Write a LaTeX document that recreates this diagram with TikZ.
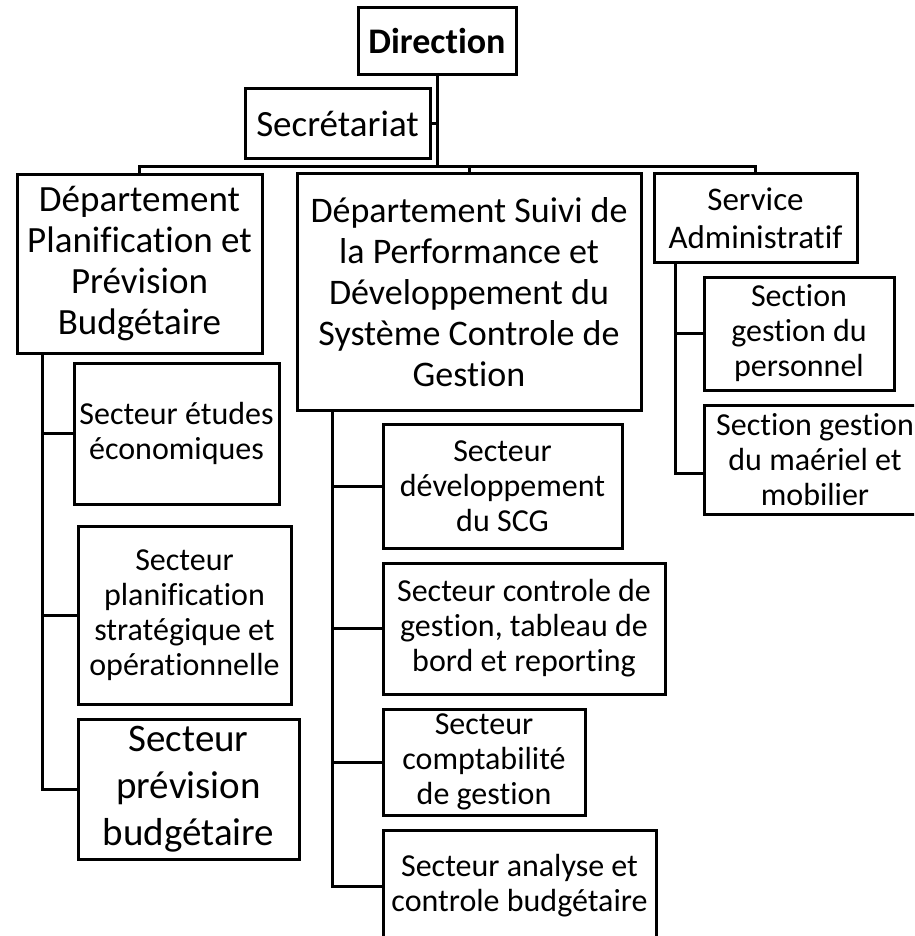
\documentclass[tikz,border=0pt]{standalone}
\usepackage{fontspec}
\setmainfont{Carlito}[Ligatures=NoCommon,Contextuals=NoAlternate]
\begin{document}
\begin{tikzpicture}[x=1pt,y=-1pt,line width=3pt,
  box/.style={draw=black,rectangle,inner sep=0pt,align=center},
  fbig/.style={font=\fontsize{37}{41}\selectfont},
  fmid/.style={font=\fontsize{33}{38}\selectfont},
  fsm/.style={font=\fontsize{32}{35}\selectfont},
  fpb/.style={font=\fontsize{39}{47}\selectfont}]
\useasboundingbox (0,0) rectangle (914,936);
\clip (0,0) rectangle (914,936);

% top level
\node[box,minimum width=158pt,minimum height=67pt,font=\fontsize{36}{42}\selectfont\bfseries] (dir) at (437,41.5) {Direction};
\node[box,minimum width=185pt,minimum height=70pt,font=\fontsize{37}{42}\selectfont] (sec) at (337.5,124) {Secrétariat};

% departments
\node[box,fbig,minimum width=245pt,minimum height=178pt] (dpp) at (139.5,264)
  {Département\\Planification et\\Prévision\\Budgétaire};
\node[box,font=\fontsize{36}{41}\selectfont,minimum width=344pt,minimum height=236pt] (dsp) at (469,292)
  {Département Suivi de\\la Performance et\\Développement du\\Système Controle de\\Gestion};
\node[box,fmid,minimum width=203pt,minimum height=88pt] (sa) at (755.5,218)
  {Service\\Administratif};

% left column
\node[box,fsm,minimum width=205pt,minimum height=141pt] (se) at (176.5,433.5)
  {Secteur études\\économiques};
\node[box,fsm,minimum width=213pt,minimum height=178pt] (spl) at (184.5,615)
  {Secteur\\planification\\stratégique et\\opérationnelle};
\node[box,fpb,minimum width=221pt,minimum height=140pt] (spb) at (188.5,789)
  {Secteur\\prévision\\budgétaire};

% middle column
\node[box,fsm,minimum width=239pt,minimum height=124pt] (sd) at (502.5,486)
  {Secteur\\développement\\du SCG};
\node[box,fsm,minimum width=282pt,minimum height=131pt] (sc) at (524,628.5)
  {Secteur controle de\\gestion, tableau de\\bord et reporting};
\node[box,fsm,minimum width=202pt,minimum height=106pt] (scp) at (484,762)
  {Secteur\\comptabilité\\de gestion};
\node[box,fsm,minimum width=273pt,minimum height=112pt] (sa2) at (519.5,886)
  {Secteur analyse et\\controle budgétaire};

% right column
\node[box,fsm,minimum width=190pt,minimum height=113pt] (sgp) at (799,333.5)
  {Section\\gestion du\\personnel};
\node[box,fsm,minimum width=222pt,minimum height=109pt] (sgm) at (815,459.5)
  {Section gestion\\du maériel et\\mobilier};

% connectors
\coordinate (busy) at (0,167);
\coordinate (lx) at (42,0);
\coordinate (mx) at (332,0);
\coordinate (rx) at (675,0);

\draw (dir.south) -- (dir.south |- busy);
\draw (sec.east) -- (sec.east -| dir.south);
\draw (dpp.north) |- (sa.north |- busy) -- (sa.north);
\draw (dsp.north) -- (dsp.north |- busy);

\draw (dpp.south -| lx) |- (spb.west);
\draw (se.west -| lx) -- (se.west);
\draw (spl.west -| lx) -- (spl.west);

\draw (dsp.south -| mx) |- (sa2.west);
\draw (sd.west -| mx) -- (sd.west);
\draw (sc.west -| mx) -- (sc.west);
\draw (scp.west -| mx) -- (scp.west);

\draw (sa.south -| rx) |- ([yshift=-13.5pt]sgm.west);
\draw (sgp.west -| rx) -- (sgp.west);
\end{tikzpicture}
\end{document}
